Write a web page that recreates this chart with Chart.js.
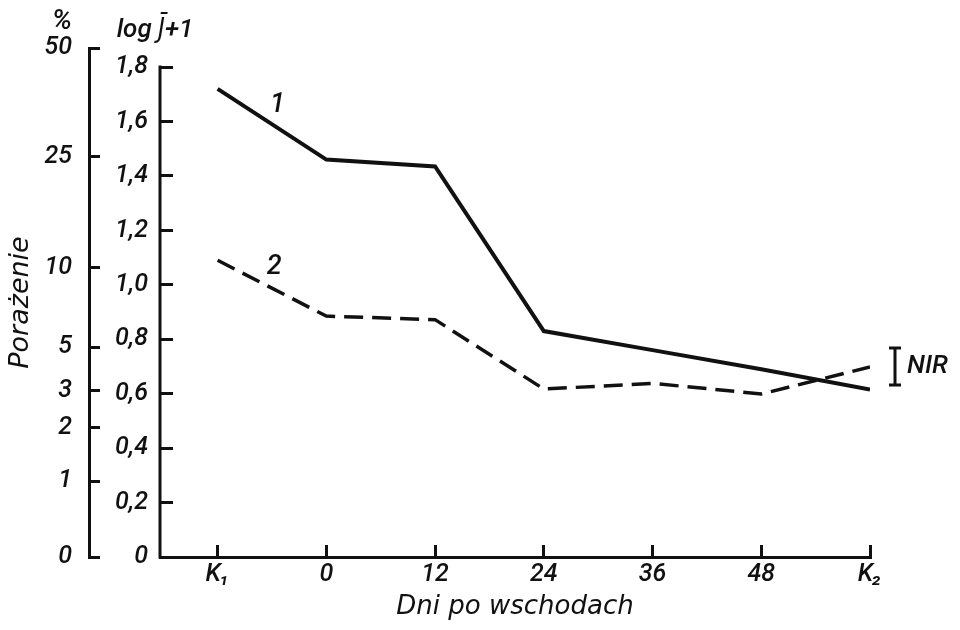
<!DOCTYPE html>
<html>
<head>
<meta charset="utf-8">
<script src="https://cdn.jsdelivr.net/npm/chart.js@4/dist/chart.umd.min.js"></script>
<style>
  body { margin: 0; background: #fff; }
</style>
</head>
<body>
<canvas id="wykres" width="960" height="630"></canvas>
<script>
// dane
const dni = ['K₁', '0', '12', '24', '36', '48', 'K₂']
const linia1 = [1.72, 1.46, 1.435, 0.83, 0.76, 0.69, 0.615]
const linia2 = [1.09, 0.885, 0.872, 0.617, 0.638, 0.599, 0.698]
const logTicks = [0, 0.2, 0.4, 0.6, 0.8, 1.0, 1.2, 1.4, 1.6, 1.8]
const procentEtykiety = ['0', '1', '2', '3', '5', '10', '25', '50']
const procentPozycje = [0, 0.279, 0.474, 0.61, 0.771, 1.062, 1.47, 1.87]
const nir = 0.136

const cyfry = "Roboto, 'DejaVu Sans Condensed', sans-serif"
const napisy = "'DejaVu Sans', sans-serif"
const czarny = '#111'

const ozdoby = {
  id: 'ozdoby',
  afterDraw(chart) {
    const ctx = chart.ctx
    const x = chart.scales.x
    const y = chart.scales.y
    const p = chart.scales.proc
    ctx.save()
    ctx.fillStyle = czarny
    ctx.strokeStyle = czarny
    ctx.lineWidth = 3

    // os log J+1 tylko od 0 do 1,8
    ctx.beginPath()
    ctx.moveTo(y.right, y.getPixelForValue(0) + 1.5)
    ctx.lineTo(y.right, y.getPixelForValue(1.8) - 1.5)
    ctx.stroke()

    ctx.textAlign = 'center'
    ctx.textBaseline = 'middle'
    ctx.font = 'italic 500 28px ' + cyfry
    ctx.fillText('%', p.right - 27, 22)
    ctx.font = 'italic 500 26px ' + cyfry
    ctx.fillText('log J̄+1', y.right - 5, 30)

    // numery linii
    ctx.font = 'italic 500 27px ' + cyfry
    ctx.fillText('1', x.getPixelForValue(0.55), y.getPixelForValue(1.66))
    ctx.fillText('2', x.getPixelForValue(0.52), y.getPixelForValue(1.065))

    // NIR
    const nx = x.getPixelForValue(6.23)
    const y0 = y.getPixelForValue(0.632)
    const y1 = y.getPixelForValue(0.632 + nir)
    ctx.beginPath()
    ctx.moveTo(nx, y0); ctx.lineTo(nx, y1)
    ctx.moveTo(nx - 6, y0); ctx.lineTo(nx + 6, y0)
    ctx.moveTo(nx - 6, y1); ctx.lineTo(nx + 6, y1)
    ctx.stroke()
    ctx.textAlign = 'left'
    ctx.font = 'italic 500 26px ' + cyfry
    ctx.fillText('NIR', nx + 12, (y0 + y1) / 2)
    ctx.restore()
  }
}

new Chart(document.getElementById('wykres'), {
  type: 'line',
  data: {
    datasets: [{
      label: '1',
      data: linia1.map((v, i) => ({ x: i, y: v })),
      borderColor: czarny,
      borderWidth: 4,
      pointRadius: 0,
      yAxisID: 'y'
    }, {
      label: '2',
      data: linia2.map((v, i) => ({ x: i, y: v })),
      borderColor: czarny,
      borderWidth: 3.5,
      borderDash: [19, 9],
      pointRadius: 0,
      yAxisID: 'y'
    }]
  },
  options: {
    responsive: false,
    animation: false,
    layout: { padding: { left: 0, right: 90, top: 48, bottom: 0 } },
    plugins: { legend: { display: false }, tooltip: { enabled: false } },
    scales: {
      x: {
        type: 'linear',
        min: -0.53,
        max: 6,
        afterBuildTicks: s => { s.ticks = dni.map((_, i) => ({ value: i })) },
        afterFit: s => { s.height = 73 },
        border: { color: czarny, width: 3 },
        grid: { drawOnChartArea: false, tickLength: -12, tickWidth: 3, tickColor: czarny },
        ticks: {
          color: czarny,
          padding: 15,
          maxRotation: 0,
          autoSkip: false,
          font: { family: cyfry, size: 25, style: 'italic', weight: 500 },
          callback: v => dni[v]
        },
        title: {
          display: true,
          text: 'Dni po wschodach',
          color: czarny,
          padding: { top: 0, bottom: 7 },
          font: { family: napisy, size: 26, style: 'italic' }
        }
      },
      y: {
        position: 'left',
        weight: 1,
        min: 0,
        max: 1.87,
        afterBuildTicks: s => { s.ticks = logTicks.map(v => ({ value: v })) },
        afterFit: s => { s.width = 71 },
        border: { display: false },
        grid: { drawOnChartArea: false, tickLength: -13, tickWidth: 3, tickColor: czarny },
        ticks: {
          color: czarny,
          padding: 25,
          autoSkip: false,
          font: { family: cyfry, size: 25, style: 'italic', weight: 500 },
          callback: v => v === 0 ? '0' : v.toFixed(1).replace('.', ',')
        }
      },
      proc: {
        position: 'left',
        weight: 2,
        min: 0,
        max: 1.87,
        afterBuildTicks: s => { s.ticks = procentPozycje.map(v => ({ value: v })) },
        afterFit: s => { s.width = 89 },
        border: { color: czarny, width: 3 },
        grid: { drawOnChartArea: false, tickLength: -11, tickWidth: 3, tickColor: czarny },
        ticks: {
          color: czarny,
          padding: 28,
          autoSkip: false,
          font: { family: cyfry, size: 25, style: 'italic', weight: 500 },
          callback: (v, i) => procentEtykiety[i]
        },
        title: {
          display: true,
          text: 'Porażenie',
          color: czarny,
          padding: { top: 5, bottom: 0 },
          font: { family: napisy, size: 27, style: 'italic' }
        }
      }
    }
  },
  plugins: [ozdoby]
})
</script>
</body>
</html>
